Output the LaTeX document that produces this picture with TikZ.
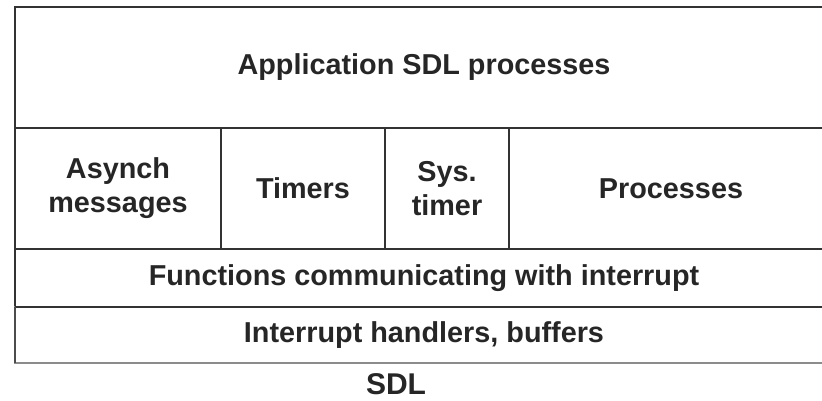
\documentclass[tikz,border=0pt]{standalone}
\usepackage{fontspec}
\setmainfont{Liberation Sans}
\usepackage{xcolor}
\usepackage{tikz}

\begin{document}
\begin{tikzpicture}[
    x=1pt, y=-1pt,
    cell/.style={rectangle, draw=black!80, line width=1.6pt, inner sep=0pt, outer sep=0pt, align=center, text=black!85, font=\fontsize{28.8}{34}\selectfont\bfseries, anchor=north west},
    caption/.style={text=black!85, font=\fontsize{30}{34}\selectfont\bfseries}
  ]
    \useasboundingbox (0,0) rectangle (822,400);
    % Nodes
    \node[cell, minimum width=818pt, minimum height=121pt] (app) at (15,7) {Application SDL processes};
    \node[cell, minimum width=206pt, minimum height=121pt] (asynch) at (app.south west) {Asynch\\messages};
    \node[cell, minimum width=164pt, minimum height=121pt] (timers) at (asynch.north east) {Timers};
    \node[cell, minimum width=124pt, minimum height=121pt] (systimer) at (timers.north east) {Sys.\\timer};
    \node[cell, minimum width=324pt, minimum height=121pt] (procs) at (systimer.north east) {Processes};
    \node[cell, minimum width=818pt, minimum height=58pt] (funcs) at (asynch.south west) {Functions communicating with interrupt};
    \node[cell, minimum width=818pt, minimum height=56pt, draw=black!45] (irq) at (funcs.south west) {Interrupt handlers, buffers};
    \draw[black!80, line width=1.6pt] (irq.north west) -- (irq.north east);
    \draw[black!70, line width=1.6pt] (irq.north west) -- (irq.south west);

    \node[caption] (sdl) at (396,384) {SDL};
  \end{tikzpicture}
\end{document}
